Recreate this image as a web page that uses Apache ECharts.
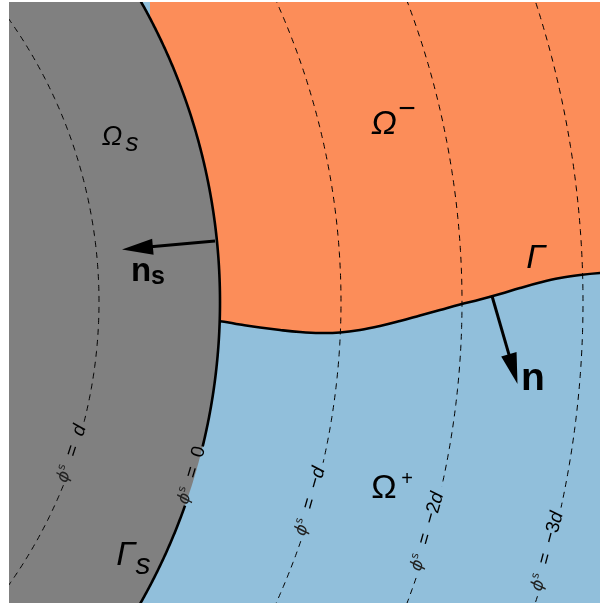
<!DOCTYPE html>
<html><head><meta charset="utf-8">
<script src="https://cdn.jsdelivr.net/npm/echarts@6/dist/echarts.min.js"></script>
<style>html,body{margin:0;padding:0;background:#fff}#c{width:600px;height:606px}</style>
</head><body><div id="c"></div>
<script>
// ---- data (plot units: 1 unit = 1 screen pixel, y grows downward) ----
const circleCenter = [-390, 302];      // centre of the level-set circles of phi^s
const wallRadius = 610;                 // radius of Gamma_s (phi^s = 0)
const spacingD = 121;                   // distance d between level sets
const phiLevels = [1, 0, -1, -2, -3];   // phi^s / d
const phiLevelTexts = ['d', '0', '−d', '−2d', '−3d'];
const phiLabelAngle = [18.2, 16.6, 15.9, 15.7, 14.9];   // deg, where each label sits
const phiLabelGap = [3.8, 2.9, 3.2, 3.2, 2.7];          // deg, half-gap in the line
const gammaX = [150, 218, 240, 260, 280, 300, 320, 340, 360, 380, 400, 420, 440, 460, 480, 500, 520, 540, 560, 580, 600, 620];
const gammaY = [319, 321, 324.5, 327.5, 330, 332, 333, 332.5, 330, 326, 321, 315.5, 310, 304.5, 299.5, 294, 288, 282.5, 278, 275, 273, 272];
const arrowNs = [[215, 241], [122, 249.5]];
const arrowN = [[492, 296], [517.5, 384]];

const C_GRAY = '#808080', C_ORANGE = '#fc8d59', C_BLUE = '#91bfdb';
const DEG = Math.PI / 180;

function arcPts(api, R, a0, a1) {
  const pts = [];
  const n = Math.max(2, Math.ceil(Math.abs(a1 - a0) / 0.2));
  for (let i = 0; i <= n; i++) {
    const t = (a0 + (a1 - a0) * i / n) * DEG;
    pts.push(api.coord([circleCenter[0] + R * Math.cos(t), circleCenter[1] + R * Math.sin(t)]));
  }
  return pts;
}
function arrowEl(api, seg) {
  const p0 = api.coord(seg[0]), p1 = api.coord(seg[1]);
  const dx = p1[0] - p0[0], dy = p1[1] - p0[1], len = Math.hypot(dx, dy);
  const ux = dx / len, uy = dy / len, L = 31, W = 16;
  const bx = p1[0] - ux * L, by = p1[1] - uy * L;
  return [
    { type: 'line', shape: { x1: p0[0], y1: p0[1], x2: bx + ux * 2, y2: by + uy * 2 }, style: { stroke: '#000', lineWidth: 3 } },
    { type: 'polygon', shape: { points: [p1, [bx - uy * W / 2, by + ux * W / 2], [bx + uy * W / 2, by - ux * W / 2]] }, style: { fill: '#000' } }
  ];
}
function txt(api, x, y, text, size, opts) {
  const p = api.coord([x, y]);
  return { type: 'text', x: p[0], y: p[1], style: Object.assign({
    text: text, fill: '#000', fontSize: size, fontFamily: 'Liberation Sans, Arial, sans-serif',
    align: 'center', verticalAlign: 'middle' }, opts || {}) };
}
function custom(z, render) {
  return { type: 'custom', coordinateSystem: 'cartesian2d', clip: true, z: z, silent: true,
    data: [[0, 0]], renderItem: (params, api) => ({ type: 'group', children: render(api) }) };
}

const series = [
  // orange region Omega^-
  custom(1, api => {
    const pts = gammaX.map((x, i) => api.coord([x, gammaY[i]]));
    pts.push(api.coord([620, -20]), api.coord([150, -20]));
    return [{ type: 'polygon', shape: { points: pts }, style: { fill: C_ORANGE } }];
  }),
  // interface Gamma
  custom(2, api => [{ type: 'polyline', shape: { points: gammaX.map((x, i) => api.coord([x, gammaY[i]])), smooth: 0.4 },
    style: { stroke: '#000', lineWidth: 2.6, fill: null } }]),
  // solid region Omega_s
  custom(3, api => {
    const pts = arcPts(api, wallRadius, -45, 45);
    pts.push(api.coord(circleCenter));
    return [{ type: 'polygon', shape: { points: pts }, style: { fill: C_GRAY } }];
  }),
  // level sets of phi^s (solid for 0, dashed otherwise), with gaps for labels
  custom(4, api => {
    const els = [];
    phiLevels.forEach((lv, i) => {
      const R = wallRadius - lv * spacingD;
      const a = phiLabelAngle[i], g = phiLabelGap[i];
      const st = lv === 0 ? { stroke: '#000', lineWidth: 2.6, fill: null }
                          : { stroke: '#000', lineWidth: 1, fill: null, lineDash: [6, 5] };
      els.push({ type: 'polyline', shape: { points: arcPts(api, R, -60, a - g) }, style: st });
      els.push({ type: 'polyline', shape: { points: arcPts(api, R, a + g, 60) }, style: st });
    });
    return els;
  }),
  // phi^s labels along the level sets
  custom(5, api => phiLevels.map((lv, i) => {
    const R = wallRadius - lv * spacingD - 3;
    const t = phiLabelAngle[i] * DEG;
    const p = api.coord([circleCenter[0] + R * Math.cos(t), circleCenter[1] + R * Math.sin(t)]);
    const s = phiLevelTexts[i];
    const num = s.replace('d', ''), hasD = s.indexOf('d') >= 0;
    return { type: 'text', x: p[0], y: p[1], rotation: (90 - phiLabelAngle[i]) * DEG,
      style: { text: '{p|ϕ}{s|s}{t|  =  ' + num + '}' + (hasD ? '{i|d}' : ''),
        align: 'center', verticalAlign: 'middle', fill: '#000',
        rich: {
          p: { fontFamily: 'DejaVu Sans', fontStyle: 'italic', fontSize: 17, fill: '#222' },
          s: { fontFamily: 'DejaVu Sans', fontSize: 11, fill: '#222', padding: [0, 0, 10, 0] },
          t: { fontFamily: 'Liberation Sans', fontSize: 19, fill: '#000' },
          i: { fontFamily: 'Liberation Sans', fontStyle: 'italic', fontSize: 19, fill: '#000' }
        } } };
  })),
  // normal vectors
  custom(6, api => arrowEl(api, arrowNs).concat(arrowEl(api, arrowN))),
  // region / boundary labels
  custom(7, api => [
    txt(api, 112, 137, 'Ω', 27, { fontStyle: 'italic' }),
    txt(api, 132, 144, 's', 26, { fontStyle: 'italic' }),
    txt(api, 384, 125, 'Ω', 34, { fontStyle: 'italic' }),
    txt(api, 407, 110, '−', 30),
    txt(api, 384, 489, 'Ω', 34),
    txt(api, 407, 479, '+', 20),
    txt(api, 536, 259, 'Γ', 34, { fontStyle: 'italic' }),
    txt(api, 126, 556, 'Γ', 34, { fontStyle: 'italic' }),
    txt(api, 143, 566, 's', 30, { fontStyle: 'italic' }),
    txt(api, 533, 379, 'n', 39, { fontWeight: 'bold' }),
    txt(api, 141, 272, 'n', 33, { fontWeight: 'bold' }),
    txt(api, 158, 277, 's', 25, { fontWeight: 'bold' })
  ])
];

const chart = echarts.init(document.getElementById('c'), null, { renderer: 'canvas' });
chart.setOption({
  animation: false,
  backgroundColor: '#fff',
  grid: { left: 9, right: 0, top: 2, bottom: 3, show: true, backgroundColor: C_BLUE, borderWidth: 0 },
  xAxis: { type: 'value', min: 9, max: 600, show: false },
  yAxis: { type: 'value', min: 2, max: 603, inverse: true, show: false },
  series: series
});
</script></body></html>
